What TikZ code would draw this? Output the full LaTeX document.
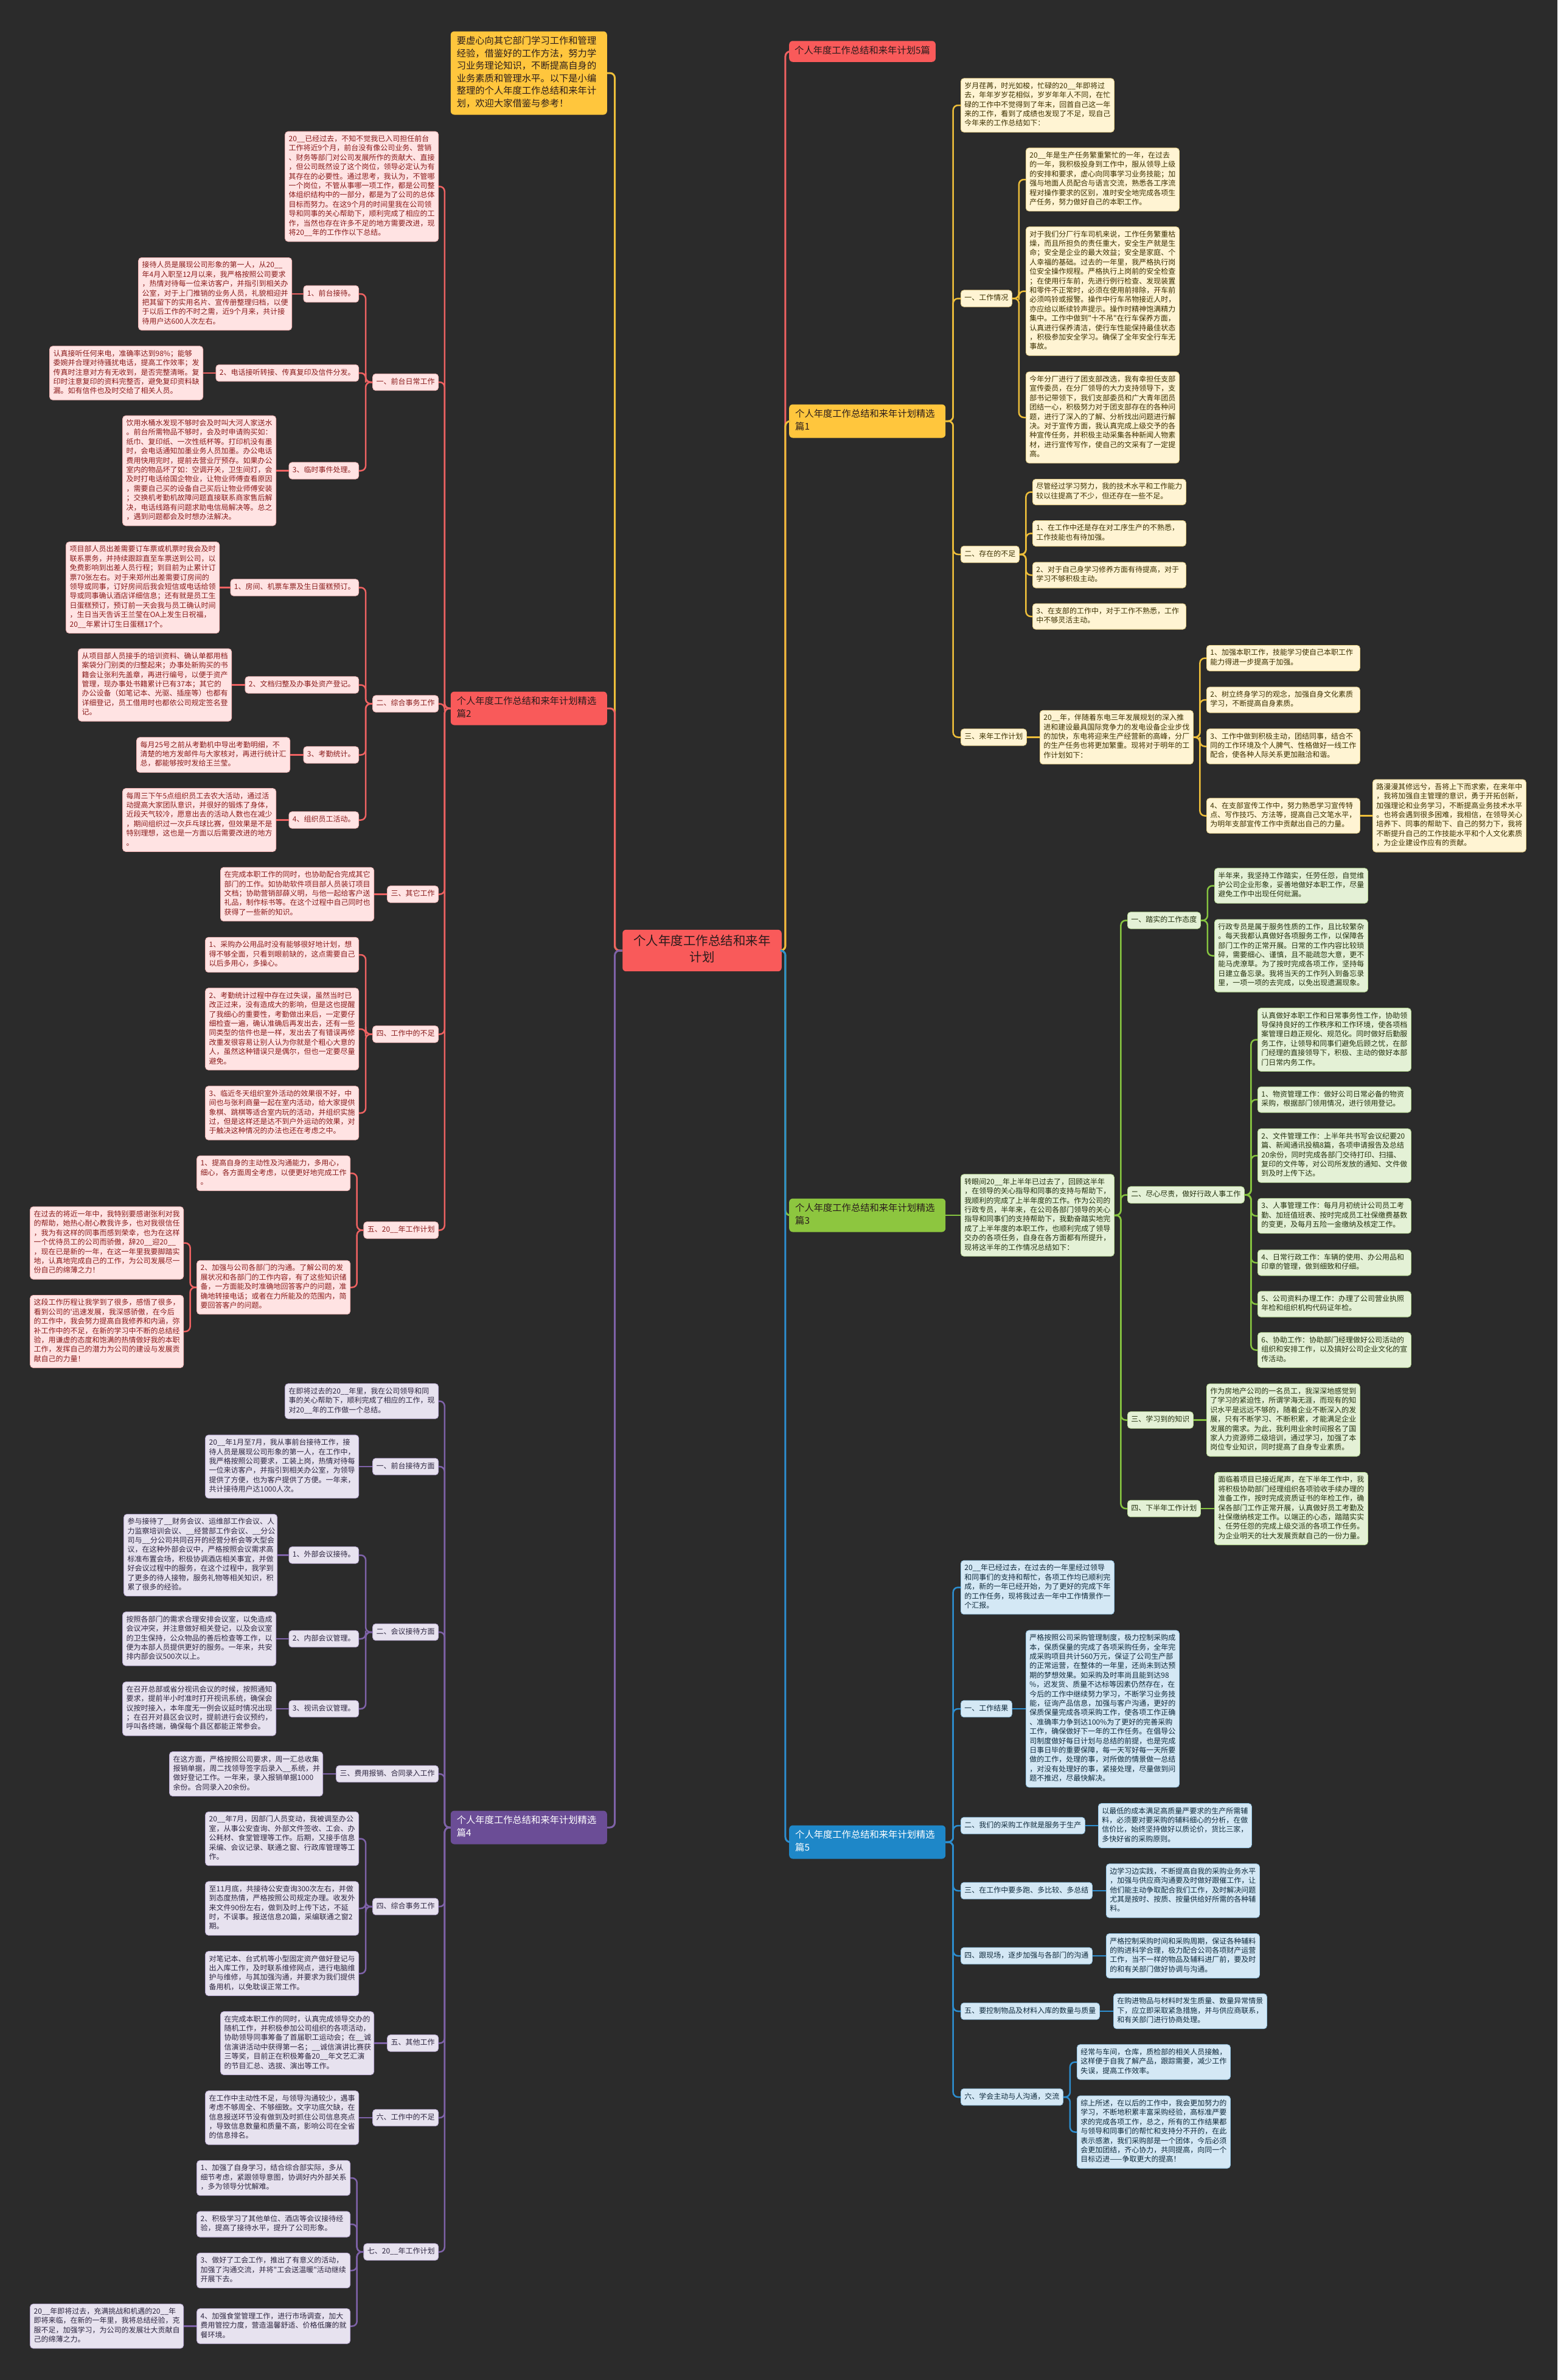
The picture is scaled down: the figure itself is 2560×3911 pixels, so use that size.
\documentclass[tikz,border=0pt]{standalone}
\usepackage{fontspec}
\newfontfamily\cjk{Noto Sans CJK SC}
\usetikzlibrary{calc}
\definecolor{bgc}{HTML}{2B2B2B}
\definecolor{dk}{HTML}{2A1C1C}
\definecolor{rF}{HTML}{F95A5A}
\definecolor{rC}{HTML}{EE6262}
\definecolor{rL}{HTML}{FFE3E3}
\definecolor{rB}{HTML}{F3B4B4}
\definecolor{rT}{HTML}{8A1C1C}
\definecolor{pF}{HTML}{6B4D96}
\definecolor{pC}{HTML}{7E62A8}
\definecolor{pL}{HTML}{E7E2EF}
\definecolor{pB}{HTML}{B9A9D3}
\definecolor{pT}{HTML}{2D2640}
\definecolor{yF}{HTML}{FFC63D}
\definecolor{yC}{HTML}{EDBE3A}
\definecolor{yL}{HTML}{FFF4D3}
\definecolor{yB}{HTML}{E8CF86}
\definecolor{yT}{HTML}{3B3000}
\definecolor{gF}{HTML}{8DC63F}
\definecolor{gC}{HTML}{86C440}
\definecolor{gL}{HTML}{E4F1D6}
\definecolor{gB}{HTML}{B5D890}
\definecolor{gT}{HTML}{24310F}
\definecolor{bF}{HTML}{1E87C8}
\definecolor{bC}{HTML}{2D8ECF}
\definecolor{bL}{HTML}{D4E8F5}
\definecolor{bB}{HTML}{92C3E3}
\definecolor{bT}{HTML}{0F2A3C}
\tikzset{
  box/.style={rounded corners=5pt, inner xsep=6pt, inner ysep=6pt, line width=0.8pt,
    font=\cjk\fontsize{12}{15.4}\selectfont, align=left,
    execute at begin node=\strut, execute at end node=\strut},
  leaf/.style={box, text width=240pt, inner ysep=5.7pt},
  rs/.style={fill=rL, draw=rB, text=rT},
  ps/.style={fill=pL, draw=pB, text=pT},
  ys/.style={fill=yL, draw=yB, text=yT},
  gs/.style={fill=gL, draw=gB, text=gT},
  bs/.style={fill=bL, draw=bB, text=bT},
  big/.style={rounded corners=6pt, font=\cjk\fontsize{15.3}{20.5}\selectfont, align=left,
    inner xsep=10pt, inner ysep=7pt, text width=237pt,
    execute at begin node=\strut, execute at end node=\strut},
  rootbox/.style={rounded corners=6pt, font=\cjk\fontsize{20.5}{27}\selectfont, align=center,
    inner xsep=18pt, inner ysep=8pt, fill=rF, text=dk,
    execute at begin node=\strut, execute at end node=\strut},
  cn/.style={line width=2.5pt, rounded corners=8pt},
  rl/.style={cn, draw=rC},
  pl/.style={cn, draw=pC},
  yl/.style={cn, draw=yC},
  gl/.style={cn, draw=gC},
  bl/.style={cn, draw=bC},
}
\newcommand\myLinkL[3][]{\draw[#1] (#2.west) -| ($(#2.west)!0.5!(#3.east)$) |- (#3.east);}
\newcommand\myLinkR[3][]{\draw[#1] (#2.east) -| ($(#2.east)!0.5!(#3.west)$) |- (#3.west);}
\newcommand\myStL[3][]{\draw[#1] (#2.west) -- (#3.east);}
\newcommand\myStR[3][]{\draw[#1] (#2.east) -- (#3.west);}
\begin{document}
\begin{tikzpicture}[x=1pt,y=-1pt]
\fill[bgc] (0,0) rectangle (2560,3911);
\useasboundingbox (0,0) rectangle (2560,3911);

% ---------- root and main branches ----------
\node[rootbox] (root) at (1154,1562) {个人年度工作总结和来年\\计划};
\node[big, fill=yF, text=dk, anchor=east] (intro) at (998,120) {要虚心向其它部门学习工作和管理\\经验，借鉴好的工作方法，努力学\\习业务理论知识，不断提高自身的\\业务素质和管理水平。以下是小编\\整理的个人年度工作总结和来年计\\划，欢迎大家借鉴与参考！};
\node[big, fill=rF, text=dk, anchor=east] (p2) at (998,1164) {个人年度工作总结和来年计划精选\\篇2};
\node[big, fill=pF, text=white, anchor=east] (p4) at (998,3003) {个人年度工作总结和来年计划精选\\篇4};
\node[big, text width=, inner xsep=9pt, fill=rF, text=dk, anchor=west] (p5t) at (1297,84.5) {个人年度工作总结和来年计划5篇};
\node[big, fill=yF, text=dk, anchor=west] (p1) at (1297,692) {个人年度工作总结和来年计划精选\\篇1};
\node[big, fill=gF, text=dk, anchor=west] (p3) at (1297,1997) {个人年度工作总结和来年计划精选\\篇3};
\node[big, fill=bF, text=white, anchor=west] (p5) at (1297,3027) {个人年度工作总结和来年计划精选\\篇5};

% ---------- 篇2 (red) ----------
\node[leaf,rs,anchor=east] (a0) at (721,306.5) {20\_\_已经过去，不知不觉我已入司担任前台\\工作将近9个月，前台没有像公司业务、营销\\、财务等部门对公司发展所作的贡献大、直接\\，但公司既然设了这个岗位，领导必定认为有\\其存在的必要性。通过思考，我认为，不管哪\\一个岗位，不管从事哪一项工作，都是公司整\\体组织结构中的一部分，都是为了公司的总体\\目标而努力。在这9个月的时间里我在公司领\\导和同事的关心帮助下，顺利完成了相应的工\\作，当然也存在许多不足的地方需要改进，现\\将20\_\_年的工作作以下总结。};
\node[box,rs,anchor=east] (a1) at (721,628) {一、前台日常工作};
\node[box,rs,anchor=east] (a11) at (590,483) {1、前台接待。};
\node[leaf,rs,anchor=east] (a11L) at (480,483) {接待人员是展现公司形象的第一人，从20\_\_\\年4月入职至12月以来，我严格按照公司要求\\，热情对待每一位来访客户，并指引到相关办\\公室，对于上门推销的业务人员，礼貌相迎并\\把其留下的实用名片、宣传册整理归档，以便\\于以后工作的不时之需，近9个月来，共计接\\待用户达600人次左右。};
\node[box,rs,anchor=east] (a12) at (590,613) {2、电话接听转接、传真复印及信件分发。};
\node[leaf,rs,anchor=east] (a12L) at (334,613) {认真接听任何来电，准确率达到98\%；能够\\委婉并合理对待骚扰电话，提高工作效率；发\\传真时注意对方有无收到，是否完整清晰。复\\印时注意复印的资料完整否，避免复印资料缺\\漏。如有信件也及时交给了相关人员。};
\node[box,rs,anchor=east] (a13) at (590,773.5) {3、临时事件处理。};
\node[leaf,rs,anchor=east] (a13L) at (454,773.5) {饮用水桶水发现不够时会及时叫大河人家送水\\。前台所需物品不够时，会及时申请购买如：\\纸巾、复印纸、一次性纸杯等。打印机没有墨\\时，会电话通知加墨业务人员加墨。办公电话\\费用快用完时，提前去营业厅预存。如果办公\\室内的物品坏了如：空调开关，卫生间灯，会\\及时打电话给国企物业，让物业师傅查看原因\\，需要自己买的设备自己买后让物业师傅安装\\；交换机考勤机故障问题直接联系商家售后解\\决，电话线路有问题求助电信局解决等。总之\\，遇到问题都会及时想办法解决。};
\node[box,rs,anchor=east] (a2) at (721,1156.5) {二、综合事务工作};
\node[box,rs,anchor=east] (a21) at (590,965.5) {1、房间、机票车票及生日蛋糕预订。};
\node[leaf,rs,anchor=east] (a21L) at (361,965.5) {项目部人员出差需要订车票或机票时我会及时\\联系票务，并持续跟踪直至车票送到公司，以\\免费影响到出差人员行程；到目前为止累计订\\票70张左右。对于来郑州出差需要订房间的\\领导或同事，订好房间后我会短信或电话给领\\导或同事确认酒店详细信息；还有就是员工生\\日蛋糕预订，预订前一天会我与员工确认时间\\，生日当天告诉王兰莹在OA上发生日祝福，\\20\_\_年累计订生日蛋糕17个。};
\node[box,rs,anchor=east] (a22) at (590,1125.5) {2、文档归整及办事处资产登记。};
\node[leaf,rs,anchor=east] (a22L) at (381,1125.5) {从项目部人员接手的培训资料、确认单都用档\\案袋分门别类的归整起来；办事处新购买的书\\籍会让张利先盖章，再进行编号，以便于资产\\管理，现办事处书籍累计已有37本；其它的\\办公设备（如笔记本、光驱、插座等）也都有\\详细登记，员工借用时也都依公司规定签名登\\记。};
\node[box,rs,anchor=east] (a23) at (590,1240.5) {3、考勤统计。};
\node[leaf,rs,anchor=east] (a23L) at (477,1240.5) {每月25号之前从考勤机中导出考勤明细，不\\清楚的地方发邮件与大家核对，再进行统计汇\\总，都能够按时发给王兰莹。};
\node[box,rs,anchor=east] (a24) at (590,1347.5) {4、组织员工活动。};
\node[leaf,rs,anchor=east] (a24L) at (454,1347.5) {每周三下午5点组织员工去农大活动，通过活\\动提高大家团队意识，并很好的锻炼了身体，\\近段天气较冷，愿意出去的活动人数也在减少\\，期间组织过一次乒乓球比赛，但效果是不是\\特别理想，这也是一方面以后需要改进的地方\\。};
\node[box,rs,anchor=east] (a3) at (721,1469.5) {三、其它工作};
\node[leaf,rs,anchor=east] (a3L) at (615,1469.5) {在完成本职工作的同时，也协助配合完成其它\\部门的工作。如协助软件项目部人员装订项目\\文档；协助营销部薛义明，与他一起给客户送\\礼品，制作标书等。在这个过程中自己同时也\\获得了一些新的知识。};
\node[box,rs,anchor=east] (a4) at (721,1699.5) {四、工作中的不足};
\node[leaf,rs,anchor=east] (a41) at (590,1569) {1、采购办公用品时没有能够很好地计划，想\\得不够全面，只看到眼前缺的，这点需要自己\\以后多用心，多操心。};
\node[leaf,rs,anchor=east] (a42) at (590,1691) {2、考勤统计过程中存在过失误，虽然当时已\\改正过来，没有造成大的影响，但是这也提醒\\了我细心的重要性，考勤做出来后，一定要仔\\细检查一遍，确认准确后再发出去，还有一些\\同类型的信件也是一样，发出去了有错误再修\\改重发很容易让别人认为你就是个粗心大意的\\人，虽然这种错误只是偶尔，但也一定要尽量\\避免。};
\node[leaf,rs,anchor=east] (a43) at (590,1829) {3、临近冬天组织室外活动的效果很不好，中\\间也与张利商量一起在室内活动，给大家提供\\象棋、跳棋等适合室内玩的活动，并组织实施\\过，但是这样还是达不到户外运动的效果，对\\于触决这种情况的办法也还在考虑之中。};
\node[box,rs,anchor=east] (a5) at (721,2021.5) {五、20\_\_年工作计划};
\node[leaf,rs,anchor=east] (a51) at (576,1928) {1、提高自身的主动性及沟通能力，多用心，\\细心，各方面周全考虑，以便更好地完成工作\\。};
\node[leaf,rs,anchor=east] (a52) at (576,2115.5) {2、加强与公司各部门的沟通。了解公司的发\\展状况和各部门的工作内容，有了这些知识储\\备，一方面能及时准确地回答客户的问题，准\\确地转接电话；或者在力所能及的范围内，简\\要回答客户的问题。};
\node[leaf,rs,anchor=east] (a521) at (302,2042.5) {在过去的将近一年中，我特别要感谢张利对我\\的帮助，她热心耐心教我许多，也对我很信任\\，我为有这样的同事而感到荣幸，也为在这样\\一个优待员工的公司而骄傲，辞20\_\_迎20\_\_\\，现在已是新的一年，在这一年里我要脚踏实\\地，认真地完成自己的工作，为公司发展尽一\\份自己的绵薄之力！};
\node[leaf,rs,anchor=east] (a522) at (302,2188) {这段工作历程让我学到了很多，感悟了很多，\\看到公司的'迅速发展，我深感骄傲，在今后\\的工作中，我会努力提高自我修养和内涵，弥\\补工作中的不足，在新的学习中不断的总结经\\验，用谦虚的态度和饱满的热情做好我的本职\\工作，发挥自己的潜力为公司的建设与发展贡\\献自己的力量！};

% ---------- 篇4 (purple) ----------
\node[leaf,ps,anchor=east] (b0) at (721,2302.5) {在即将过去的20\_\_年里，我在公司领导和同\\事的关心帮助下，顺利完成了相应的工作，现\\对20\_\_年的工作做一个总结。};
\node[box,ps,anchor=east] (b1) at (721,2410) {一、前台接待方面};
\node[leaf,ps,anchor=east] (b1L) at (590,2410) {20\_\_年1月至7月，我从事前台接待工作，接\\待人员是展现公司形象的第一人，在工作中，\\我严格按照公司要求，工装上岗，热情对待每\\一位来访客户，并指引到相关办公室，为领导\\提供了方便，也为客户提供了方便。一年来，\\共计接待用户达1000人次。};
\node[box,ps,anchor=east] (b2) at (721,2682) {二、会议接待方面};
\node[box,ps,anchor=east] (b21) at (590,2555.5) {1、外部会议接待。};
\node[leaf,ps,anchor=east] (b21L) at (456,2555.5) {参与接待了\_\_财务会议、运维部工作会议、人\\力监察培训会议、\_\_经营部工作会议、\_\_分公\\司与\_\_分公司共同召开的经营分析会等大型会\\议，在这种外部会议中，严格按照会议需求高\\标准布置会场，积极协调酒店相关事宜，并做\\好会议过程中的服务，在这个过程中，我学到\\了更多的待人接物，服务礼物等相关知识，积\\累了很多的经验。};
\node[box,ps,anchor=east] (b22) at (590,2693) {2、内部会议管理。};
\node[leaf,ps,anchor=east] (b22L) at (454,2693) {按照各部门的需求合理安排会议室，以免造成\\会议冲突，并注意做好相关登记，以及会议室\\的卫生保持，公众物品的善后检查等工作，以\\便为本部人员提供更好的服务。一年来，共安\\排内部会议500次以上。};
\node[box,ps,anchor=east] (b23) at (590,2808) {3、视讯会议管理。};
\node[leaf,ps,anchor=east] (b23L) at (454,2808) {在召开总部或省分视讯会议的时候，按照通知\\要求，提前半小时准时打开视讯系统，确保会\\议按时接入，本年度无一例会议延时情况出现\\；在召开对县区会议时，提前进行会议预约，\\呼叫各终端，确保每个县区都能正常参会。};
\node[box,ps,anchor=east] (b3) at (721,2915) {三、费用报销、合同录入工作};
\node[leaf,ps,anchor=east] (b3L) at (531,2915) {在这方面，严格按照公司要求，周一汇总收集\\报销单据，周二找领导签字后录入\_\_系统，并\\做好登记工作。一年来，录入报销单据1000\\余份。合同录入20余份。};
\node[box,ps,anchor=east] (b4) at (721,3133) {四、综合事务工作};
\node[leaf,ps,anchor=east] (b41) at (590,3021.5) {20\_\_年7月，因部门人员变动，我被调至办公\\室，从事公安查询、外部文件签收、工会、办\\公耗材、食堂管理等工作。后期，又接手信息\\采编、会议记录、联通之窗、行政库管理等工\\作。};
\node[leaf,ps,anchor=east] (b42) at (590,3136) {至11月底，共接待公安查询300次左右，并做\\到态度热情，严格按照公司规定办理。收发外\\来文件90份左右，做到及时上传下达，不延\\时，不误事。报送信息20篇，采编联通之窗2\\期。};
\node[leaf,ps,anchor=east] (b43) at (590,3243) {对笔记本、台式机等小型固定资产做好登记与\\出入库工作，及时联系维修网点，进行电脑维\\护与维修，与其加强沟通，并要求为我们提供\\备用机，以免耽误正常工作。};
\node[box,ps,anchor=east] (b5) at (721,3357.5) {五、其他工作};
\node[leaf,ps,anchor=east] (b5L) at (615,3357.5) {在完成本职工作的同时，认真完成领导交办的\\随机工作，并积极参加公司组织的各项活动，\\协助领导同事筹备了首届职工运动会；在\_\_诚\\信演讲活动中获得第一名；\_\_诚信演讲比赛获\\三等奖，目前正在积极筹备20\_\_年文艺汇演\\的节目汇总、选拔、演出等工作。};
\node[box,ps,anchor=east] (b6) at (721,3480) {六、工作中的不足};
\node[leaf,ps,anchor=east] (b6L) at (590,3480) {在工作中主动性不足，与领导沟通较少，遇事\\考虑不够周全、不够细致。文字功底欠缺，在\\信息报送环节没有做到及时抓住公司信息亮点\\，导致信息数量和质量不高，影响公司在全省\\的信息排名。};
\node[box,ps,anchor=east] (b7) at (721,3700.5) {七、20\_\_年工作计划};
\node[leaf,ps,anchor=east] (b71) at (576,3579) {1、加强了自身学习，结合综合部实际，多从\\细节考虑，紧跟领导意图，协调好内外部关系\\，多为领导分忧解难。};
\node[leaf,ps,anchor=east] (b72) at (576,3655) {2、积极学习了其他单位、酒店等会议接待经\\验，提高了接待水平，提升了公司形象。};
\node[leaf,ps,anchor=east] (b73) at (576,3731) {3、做好了工会工作，推出了有意义的活动，\\加强了沟通交流，并将"工会送温暖"活动继续\\开展下去。};
\node[leaf,ps,anchor=east] (b74) at (576,3822.5) {4、加强食堂管理工作，进行市场调查，加大\\费用管控力度，营造温馨舒适、价格低廉的就\\餐环境。};
\node[leaf,ps,anchor=east] (b74L) at (302,3822.5) {20\_\_年即将过去，充满挑战和机遇的20\_\_年\\即将来临，在新的一年里，我将总结经验，克\\服不足，加强学习，为公司的发展壮大贡献自\\己的绵薄之力。};

% ---------- 篇1 (yellow) ----------
\node[leaf,ys,anchor=west] (c0) at (1579,173) {岁月荏苒，时光如梭，忙碌的20\_\_年即将过\\去，年年岁岁花相似，岁岁年年人不同，在忙\\碌的工作中不觉得到了年末，回首自己这一年\\来的工作，看到了成绩也发现了不足，现自己\\今年来的工作总结如下：};
\node[box,ys,anchor=west] (c1) at (1579,490.5) {一、工作情况};
\node[leaf,ys,anchor=west] (c11) at (1686,295) {20\_\_年是生产任务繁重繁忙的一年，在过去\\的一年，我积极投身到工作中，服从领导上级\\的安排和要求，虚心向同事学习业务技能；加\\强与地面人员配合与语言交流，熟悉各工序流\\程对操作要求的区别，准时安全地完成各项生\\产任务，努力做好自己的本职工作。};
\node[leaf,ys,anchor=west] (c12) at (1686,478.5) {对于我们分厂行车司机来说，工作任务繁重枯\\燥，而且所担负的责任重大，安全生产就是生\\命；安全是企业的最大效益；安全是家庭、个\\人幸福的基础。过去的一年里，我严格执行岗\\位安全操作规程。严格执行上岗前的安全检查\\；在使用行车前，先进行例行检查、发现装置\\和零件不正常时，必须在使用前排除，开车前\\必须鸣铃或报警。操作中行车吊物接近人时，\\亦应给以断续铃声提示。操作时精神饱满精力\\集中。工作中做到"十不吊"在行车保养方面，\\认真进行保养清洁，使行车性能保持最佳状态\\，积极参加安全学习。确保了全年安全行车无\\事故。};
\node[leaf,ys,anchor=west] (c13) at (1686,686) {今年分厂进行了团支部改选，我有幸担任支部\\宣传委员，在分厂领导的大力支持领导下，支\\部书记带领下，我们支部委员和广大青年团员\\团结一心，积极努力对于团支部存在的各种问\\题，进行了深入的了解、分析找出问题进行解\\决。对于宣传方面，我认真完成上级交予的各\\种宣传任务，并积极主动采集各种新闻人物素\\材，进行宣传写作，使自己的文采有了一定提\\高。};
\node[box,ys,anchor=west] (c2) at (1579,911) {二、存在的不足};
\node[leaf,ys,anchor=west] (c21) at (1697,808.5) {尽管经过学习努力，我的技术水平和工作能力\\较以往提高了不少，但还存在一些不足。};
\node[leaf,ys,anchor=west] (c22) at (1697,876.5) {1、在工作中还是存在对工序生产的不熟悉，\\工作技能也有待加强。};
\node[leaf,ys,anchor=west] (c23) at (1697,945) {2、对于自己身学习修养方面有待提高，对于\\学习不够积极主动。};
\node[leaf,ys,anchor=west] (c24) at (1697,1013) {3、在支部的工作中，对于工作不熟悉，工作\\中不够灵活主动。};
\node[box,ys,anchor=west] (c3) at (1579,1211.5) {三、来年工作计划};
\node[leaf,ys,anchor=west] (c3L) at (1709,1211.5) {20\_\_年，伴随着东电三年发展规划的深入推\\进和建设最具国际竞争力的发电设备企业步伐\\的加快，东电将迎来生产经营新的高峰，分厂\\的生产任务也将更加繁重。现将对于明年的工\\作计划如下：};
\node[leaf,ys,anchor=west] (c31) at (1983,1081.5) {1、加强本职工作，技能学习使自己本职工作\\能力得进一步提高于加强。};
\node[leaf,ys,anchor=west] (c32) at (1983,1150) {2、树立终身学习的观念，加强自身文化素质\\学习，不断提高自身素质。};
\node[leaf,ys,anchor=west] (c33) at (1983,1226.5) {3、工作中做到积极主动，团结同事，结合不\\同的工作环境及个人脾气、性格做好一线工作\\配合，使各种人际关系更加融洽和谐。};
\node[leaf,ys,anchor=west] (c34) at (1983,1340.5) {4、在支部宣传工作中，努力熟悉学习宣传特\\点、写作技巧、方法等，提高自己文笔水平，\\为明年支部宣传工作中贡献出自己的力量。};
\node[leaf,ys,anchor=west] (c34L) at (2256,1340.5) {路漫漫其修远兮，吾将上下而求索，在来年中\\，我将加强自主管理的意识，勇于开拓创新，\\加强理论和业务学习，不断提高业务技术水平\\。也将会遇到很多困难，我相信，在领导关心\\培养下、同事的帮助下、自己的努力下，我将\\不断提升自己的工作技能水平和个人文化素质\\，为企业建设作应有的贡献。};

% ---------- 篇3 (green) ----------
\node[leaf,gs,anchor=west] (d0) at (1579,1997) {转眼间20\_\_年上半年已过去了，回顾这半年\\，在领导的关心指导和同事的支持与帮助下，\\我顺利的完成了上半年度的工作。作为公司的\\行政专员，半年来，在公司各部门领导的关心\\指导和同事们的支持帮助下，我勤奋踏实地完\\成了上半年度的本职工作，也顺利完成了领导\\交办的各项任务，自身在各方面都有所提升，\\现将这半年的工作情况总结如下：};
\node[box,gs,anchor=west] (d1) at (1853,1512.5) {一、踏实的工作态度};
\node[leaf,gs,anchor=west] (d11) at (1996,1455.5) {半年来，我坚持工作踏实，任劳任怨，自觉维\\护公司企业形象，妥善地做好本职工作，尽量\\避免工作中出现任何纰漏。};
\node[leaf,gs,anchor=west] (d12) at (1996,1570.5) {行政专员是属于服务性质的工作，且比较繁杂\\。每天我都认真做好各项服务工作，以保障各\\部门工作的正常开展。日常的工作内容比较琐\\碎，需要细心、谨慎，且不能疏忽大意，更不\\能马虎潦草。为了按时完成各项工作，坚持每\\日建立备忘录。我将当天的工作列入到备忘录\\里，一项一项的去完成，以免出现遗漏现象。};
\node[box,gs,anchor=west] (d2) at (1853,1963.5) {二、尽心尽责，做好行政人事工作};
\node[leaf,gs,anchor=west] (d21) at (2067,1708.5) {认真做好本职工作和日常事务性工作，协助领\\导保持良好的工作秩序和工作环境，使各项档\\案管理日趋正规化、规范化。同时做好后勤服\\务工作，让领导和同事们避免后顾之忧，在部\\门经理的直接领导下，积极、主动的做好本部\\门日常内务工作。};
\node[leaf,gs,anchor=west] (d22) at (2067,1807) {1、物资管理工作：做好公司日常必备的物资\\采购，根据部门领用情况，进行领用登记。};
\node[leaf,gs,anchor=west] (d23) at (2067,1899) {2、文件管理工作：上半年共书写会议纪要20\\篇、新闻通讯投稿8篇，各项申请报告及总结\\20余份，同时完成各部门交待打印、扫描、\\复印的文件等，对公司所发放的通知、文件做\\到及时上传下达。};
\node[leaf,gs,anchor=west] (d24) at (2067,1998) {3、人事管理工作：每月月初统计公司员工考\\勤、加班值班表、按时完成员工社保缴费基数\\的变更，及每月五险一金缴纳及核定工作。};
\node[leaf,gs,anchor=west] (d25) at (2067,2075) {4、日常行政工作：车辆的使用、办公用品和\\印章的管理，做到细致和仔细。};
\node[leaf,gs,anchor=west] (d26) at (2067,2143) {5、公司资料办理工作：办理了公司营业执照\\年检和组织机构代码证年检。};
\node[leaf,gs,anchor=west] (d27) at (2067,2218.5) {6、协助工作：协助部门经理做好公司活动的\\组织和安排工作，以及搞好公司企业文化的宣\\传活动。};
\node[box,gs,anchor=west] (d3) at (1853,2333.5) {三、学习到的知识};
\node[leaf,gs,anchor=west] (d3L) at (1983,2333.5) {作为房地产公司的一名员工，我深深地感觉到\\了学习的紧迫性，所谓学海无涯，而现有的知\\识水平是远远不够的，随着企业不断深入的发\\展，只有不断学习、不断积累，才能满足企业\\发展的需求。为此，我利用业余时间报名了国\\家人力资源师二级培训，通过学习，加强了本\\岗位专业知识，同时提高了自身专业素质。};
\node[box,gs,anchor=west] (d4) at (1853,2479) {四、下半年工作计划};
\node[leaf,gs,anchor=west] (d4L) at (1996,2479) {面临着项目已接近尾声，在下半年工作中，我\\将积极协助部门经理组织各项验收手续办理的\\准备工作，按时完成资质证书的年检工作，确\\保各部门工作正常开展，认真做好员工考勤及\\社保缴纳核定工作。以端正的心态，踏踏实实\\、任劳任怨的完成上级交派的各项工作任务。\\为企业明天的壮大发展贡献自己的一份力量。};

% ---------- 篇5 (blue) ----------
\node[leaf,bs,anchor=west] (e0) at (1579,2608.5) {20\_\_年已经过去，在过去的一年里经过领导\\和同事们的支持和帮忙，各项工作均已顺利完\\成，新的一年已经开始，为了更好的完成下年\\的工作任务，现将我过去一年中工作情景作一\\个汇报。};
\node[box,bs,anchor=west] (e1) at (1579,2808) {一、工作结果};
\node[leaf,bs,anchor=west] (e1L) at (1686,2808) {严格按照公司采购管理制度，极力控制采购成\\本，保质保量的完成了各项采购任务，全年完\\成采购项目共计560万元，保证了公司生产部\\的正常运营，在整体的一年里，还尚未到达预\\期的梦想效果。如采购及时率尚且能到达98\\\%，迟发货、质量不达标等因素仍然存在，在\\今后的工作中继续努力学习，不断学习业务技\\能，征询产品信息，加强与客户沟通，更好的\\保质保量完成各项采购工作，使各项工作正确\\、准确率力争到达100\%为了更好的完善采购\\工作，确保做好下一年的工作任务。在倡导公\\司制度做好每日计划与总结的前提，也是完成\\日事日毕的重要保障，每一天写好每一天所要\\做的工作，处理的事，对所做的情景做一总结\\，对没有处理好的事，紧接处理，尽量做到问\\题不推迟，尽最快解决。};
\node[box,bs,anchor=west] (e2) at (1579,3000) {二、我们的采购工作就是服务于生产};
\node[leaf,bs,anchor=west] (e2L) at (1805,3000) {以最低的成本满足高质量严要求的生产所需辅\\料，必须要对要采购的辅料细心的分析，在做\\信价比，始终坚持做好以质论价，货比三家，\\多快好省的采购原则。};
\node[box,bs,anchor=west] (e3) at (1579,3107) {三、在工作中要多跑、多比较、多总结};
\node[leaf,bs,anchor=west] (e3L) at (1818,3107) {边学习边实践，不断提高自我的采购业务水平\\，加强与供应商沟通要及时做好跟催工作，让\\他们能主动争取配合我们工作，及时解决问题\\尤其是按时、按质、按量供给好所需的各种辅\\料。};
\node[box,bs,anchor=west] (e4) at (1579,3214) {四、跟现场，逐步加强与各部门的沟通};
\node[leaf,bs,anchor=west] (e4L) at (1818,3214) {严格控制采购时间和采购周期，保证各种辅料\\的购进科学合理，极力配合公司各项财产运营\\工作，当不一样的物品及辅料进厂前，要及时\\的和有关部门做好协调与沟通。};
\node[box,bs,anchor=west] (e5) at (1579,3305) {五、要控制物品及材料入库的数量与质量};
\node[leaf,bs,anchor=west] (e5L) at (1830,3305) {在购进物品与材料时发生质量、数量异常情景\\下，应立即采取紧急措施，并与供应商联系，\\和有关部门进行协商处理。};
\node[box,bs,anchor=west] (e6) at (1579,3446) {六、学会主动与人沟通，交流};
\node[leaf,bs,anchor=west] (e61) at (1770,3388.5) {经常与车间，仓库，质检部的相关人员接触，\\这样便于自我了解产品，跟踪需要，减少工作\\失误，提高工作效率。};
\node[leaf,bs,anchor=west] (e62) at (1770,3503.5) {综上所述，在以后的工作中，我会更加努力的\\学习，不断地积累丰富采购经验，高标准严要\\求的完成各项工作，总之，所有的工作结果都\\与领导和同事们的帮忙和支持分不开的，在此\\表示感激，我们采购部是一个团体，今后必须\\会更加团结，齐心协力，共同提高，向同一个\\目标迈进——争取更大的提高！};

% ---------- connectors: root ----------
\myLinkL[yl,line width=3pt]{root}{intro}
\myLinkL[rl,line width=3pt]{root}{p2}
\myLinkL[pl,line width=3pt]{root}{p4}
\myLinkR[rl,line width=3pt]{root}{p5t}
\myLinkR[yl,line width=3pt]{root}{p1}
\myLinkR[gl,line width=3pt]{root}{p3}
\myLinkR[bl,line width=3pt]{root}{p5}

% 篇2
\foreach \c in {a0,a1,a2,a3,a4,a5} {\myLinkL[rl]{p2}{\c}}
\foreach \c in {a11,a12,a13} {\myLinkL[rl]{a1}{\c}}
\myStL[rl]{a11}{a11L}
\myStL[rl]{a12}{a12L}
\myStL[rl]{a13}{a13L}
\foreach \c in {a21,a22,a23,a24} {\myLinkL[rl]{a2}{\c}}
\myStL[rl]{a21}{a21L}
\myStL[rl]{a22}{a22L}
\myStL[rl]{a23}{a23L}
\myStL[rl]{a24}{a24L}
\myStL[rl]{a3}{a3L}
\foreach \c in {a41,a42,a43} {\myLinkL[rl]{a4}{\c}}
\foreach \c in {a51,a52} {\myLinkL[rl]{a5}{\c}}
\foreach \c in {a521,a522} {\myLinkL[rl]{a52}{\c}}

% 篇4
\foreach \c in {b0,b1,b2,b3,b4,b5,b6,b7} {\myLinkL[pl]{p4}{\c}}
\myStL[pl]{b1}{b1L}
\foreach \c in {b21,b22,b23} {\myLinkL[pl]{b2}{\c}}
\myStL[pl]{b21}{b21L}
\myStL[pl]{b22}{b22L}
\myStL[pl]{b23}{b23L}
\myStL[pl]{b3}{b3L}
\foreach \c in {b41,b42,b43} {\myLinkL[pl]{b4}{\c}}
\myStL[pl]{b5}{b5L}
\myStL[pl]{b6}{b6L}
\foreach \c in {b71,b72,b73,b74} {\myLinkL[pl]{b7}{\c}}
\myStL[pl]{b74}{b74L}

% 篇1
\foreach \c in {c0,c1,c2,c3} {\myLinkR[yl]{p1}{\c}}
\foreach \c in {c11,c12,c13} {\myLinkR[yl]{c1}{\c}}
\foreach \c in {c21,c22,c23,c24} {\myLinkR[yl]{c2}{\c}}
\myStR[yl]{c3}{c3L}
\foreach \c in {c31,c32,c33,c34} {\myLinkR[yl]{c3L}{\c}}
\myStR[yl]{c34}{c34L}

% 篇3
\myStR[gl]{p3}{d0}
\foreach \c in {d1,d2,d3,d4} {\myLinkR[gl]{d0}{\c}}
\foreach \c in {d11,d12} {\myLinkR[gl]{d1}{\c}}
\foreach \c in {d21,d22,d23,d24,d25,d26,d27} {\myLinkR[gl]{d2}{\c}}
\myStR[gl]{d3}{d3L}
\myStR[gl]{d4}{d4L}

% 篇5
\foreach \c in {e0,e1,e2,e3,e4,e5,e6} {\myLinkR[bl]{p5}{\c}}
\myStR[bl]{e1}{e1L}
\myStR[bl]{e2}{e2L}
\myStR[bl]{e3}{e3L}
\myStR[bl]{e4}{e4L}
\myStR[bl]{e5}{e5L}
\foreach \c in {e61,e62} {\myLinkR[bl]{e6}{\c}}
\end{tikzpicture}
\end{document}
